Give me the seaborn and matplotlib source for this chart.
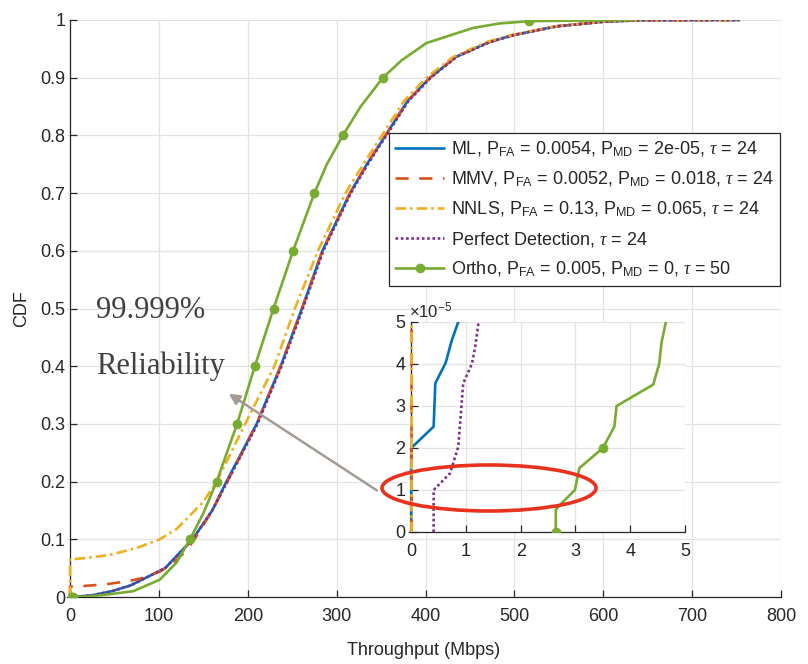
import numpy as np
import pandas as pd
import seaborn as sns
import matplotlib.pyplot as plt
from matplotlib.patches import Ellipse
from matplotlib.ticker import FixedLocator, FixedFormatter

# ---- data (throughput in Mbps, CDF value) ----
ml_thr = [0, 0, 0.41, 0.44, 0.63, 0.74, 0.86, 2.5, 10, 25, 47, 68, 107, 138, 160, 176,
          210, 237, 261, 284, 315, 334, 355, 380, 405, 434, 472, 499, 547, 600, 640, 753]
ml_cdf = [0, 2.0e-5, 2.51e-5, 3.54e-5, 4.03e-5, 4.56e-5, 5.0e-5, 1.5e-4, 0.0008, 0.003, 0.01,
          0.02, 0.05, 0.1, 0.15, 0.2, 0.3, 0.4, 0.5, 0.6, 0.7, 0.75, 0.8, 0.86, 0.9, 0.936,
          0.962, 0.974, 0.989, 0.997, 0.9995, 1.0]

mmv_thr = [0, 0, 15, 40, 64, 82, 101, 116, 131, 140, 160, 177, 210, 237, 261, 284, 315,
           334, 355, 380, 405, 434, 472, 499, 547, 600, 640, 753]
mmv_cdf = [0, 0.018, 0.019, 0.022, 0.027, 0.033, 0.044, 0.058, 0.081, 0.1, 0.15, 0.2, 0.3,
           0.4, 0.5, 0.6, 0.7, 0.75, 0.8, 0.86, 0.9, 0.936, 0.962, 0.974, 0.989, 0.997,
           0.9995, 1.0]

nnls_thr = [0, 0, 20, 45, 75, 101, 120, 131, 150, 165, 197, 230, 253, 279, 310, 330, 351,
            376, 401, 431, 469, 497, 545, 599, 640, 753]
nnls_cdf = [0, 0.065, 0.068, 0.073, 0.085, 0.10, 0.118, 0.135, 0.165, 0.2, 0.3, 0.4, 0.5,
            0.6, 0.7, 0.75, 0.8, 0.86, 0.9, 0.936, 0.962, 0.974, 0.989, 0.997, 0.9995, 1.0]

perfect_thr = [0.41, 0.41, 0.71, 0.86, 0.95, 1.11, 1.17, 1.23, 3, 10, 25, 47, 68, 107, 138,
               160, 177, 211, 238, 262, 285, 316, 335, 356, 381, 406, 435, 473, 500, 548,
               601, 640, 753]
perfect_cdf = [0, 1.0e-5, 1.4e-5, 2.03e-5, 3.54e-5, 4.01e-5, 4.41e-5, 5.0e-5, 1.5e-4, 0.0008,
               0.003, 0.01, 0.02, 0.05, 0.1, 0.15, 0.2, 0.3, 0.4, 0.5, 0.6, 0.7, 0.75, 0.8,
               0.86, 0.9, 0.936, 0.962, 0.974, 0.989, 0.997, 0.9995, 1.0]

ortho_thr = [2.64, 2.64, 2.75, 2.99, 3.07, 3.50, 3.71, 3.75, 4.42, 4.53, 4.57, 4.65, 8, 20,
             40, 71, 101, 120, 135, 150, 165, 188, 208, 229, 251, 275, 289, 307, 327, 352,
             373, 401, 429, 453, 483, 517, 633]
ortho_cdf = [0, 0.53e-5, 0.69e-5, 1.0e-5, 1.52e-5, 2.0e-5, 2.51e-5, 3.0e-5, 3.51e-5, 4.01e-5,
             4.5e-5, 5.0e-5, 1.5e-4, 8e-4, 0.004, 0.01, 0.03, 0.06, 0.1, 0.145, 0.2, 0.3, 0.4,
             0.5, 0.6, 0.7, 0.75, 0.8, 0.85, 0.9, 0.93, 0.96, 0.974, 0.986, 0.994, 0.998, 1.0]

labels = [
    r'ML, P$_{\mathrm{FA}}$ = 0.0054, P$_{\mathrm{MD}}$ = 2e-05, $\tau$ = 24',
    r'MMV, P$_{\mathrm{FA}}$ = 0.0052, P$_{\mathrm{MD}}$ = 0.018, $\tau$ = 24',
    r'NNLS, P$_{\mathrm{FA}}$ = 0.13, P$_{\mathrm{MD}}$ = 0.065, $\tau$ = 24',
    r'Perfect Detection, $\tau$ = 24',
    r'Ortho, P$_{\mathrm{FA}}$ = 0.005, P$_{\mathrm{MD}}$ = 0, $\tau$ = 50',
]

x_ticks = [0, 100, 200, 300, 400, 500, 600, 700, 800]
y_ticks = [0, 0.1, 0.2, 0.3, 0.4, 0.5, 0.6, 0.7, 0.8, 0.9, 1.0]
y_tick_labels = ['0', '0.1', '0.2', '0.3', '0.4', '0.5', '0.6', '0.7', '0.8', '0.9', '1']
inset_ticks = [0, 1, 2, 3, 4, 5]

# ---- style ----
sns.set_theme(style='whitegrid')
plt.rcParams['font.family'] = ['Liberation Sans', 'DejaVu Sans']
plt.rcParams['mathtext.fontset'] = 'custom'
plt.rcParams['mathtext.rm'] = 'Liberation Sans'
plt.rcParams['mathtext.it'] = 'Liberation Serif:italic'
plt.rcParams['axes.unicode_minus'] = True

green = '#77AC30'
series = [
    (ml_thr, ml_cdf, dict(color='#0072BD', lw=1.9, linestyle='-')),
    (mmv_thr, mmv_cdf, dict(color='#D95319', lw=1.9, linestyle=(0, (5, 4)))),
    (nnls_thr, nnls_cdf, dict(color='#EDB120', lw=1.9, linestyle=(0, (4, 1.5, 1, 1.5)))),
    (perfect_thr, perfect_cdf, dict(color='#7E2F8E', lw=1.9, linestyle=(0, (1, 1)))),
    (ortho_thr, ortho_cdf, dict(color=green, lw=1.9, linestyle='-', marker='o',
                                markersize=6.5, markeredgecolor=green, markeredgewidth=0.5,
                                markerfacecolor=green,
                                markevery=[0, 5, 18, 20, 21, 22, 23, 24, 25, 27, 29, 35])),
]

fig = plt.figure(figsize=(8.08, 6.64), dpi=100)
fig.patch.set_facecolor('white')
ax = fig.add_axes([67 / 808, 1 - 597 / 664, 714 / 808, 577 / 664])
ax_in = fig.add_axes([409 / 808, 1 - 532 / 664, 276 / 808, 210 / 664])

for a in (ax, ax_in):
    for (xs, ys, kw), lab in zip(series, labels):
        sns.lineplot(x=xs, y=ys, ax=a, sort=False, estimator=None, label=lab, zorder=3, **kw)

for a in (ax, ax_in):
    a.set_facecolor('white')
    a.grid(True, color='#e3e3e3', lw=0.9)
    for s in ('top', 'right'):
        a.spines[s].set_visible(False)
    for s in ('left', 'bottom'):
        a.spines[s].set_color('#262626')
        a.spines[s].set_linewidth(0.9)
    a.spines['left'].set_position(('data', 0))
    a.tick_params(direction='in', length=5, width=0.9, color='#262626',
                  labelcolor='#262626', labelsize=13, left=True, bottom=True)
    a.tick_params(axis='x', pad=8)

ax.set_xlim(-3.4, 800)
ax.set_ylim(0, 1)
ax.xaxis.set_major_locator(FixedLocator(x_ticks))
ax.yaxis.set_major_locator(FixedLocator(y_ticks))
ax.yaxis.set_major_formatter(FixedFormatter(y_tick_labels))
ax.set_xlabel('Throughput (Mbps)', fontsize=13, color='#262626', labelpad=12)
ax.set_ylabel('CDF', fontsize=13, color='#262626', labelpad=7)

ax_in.set_xlim(-0.04, 5)
ax_in.set_ylim(0, 5e-5)
ax_in.set_xticks(inset_ticks)
ax_in.set_yticks([t * 1e-5 for t in inset_ticks])
ax_in.ticklabel_format(axis='y', style='sci', scilimits=(0, 0), useMathText=True)
ax_in.yaxis.get_offset_text().set_fontsize(12)
ax_in.yaxis.get_offset_text().set_color('#262626')
ax_in.get_legend().remove()

leg = ax.legend(loc='upper right', bbox_to_anchor=(780 / 808, 1 - 133 / 664),
                bbox_transform=fig.transFigure, fontsize=13, frameon=True, fancybox=False,
                edgecolor='#262626', framealpha=1, handlelength=2.7, labelspacing=0.6,
                borderpad=0.35, handletextpad=0.4, borderaxespad=0)
leg.get_frame().set_linewidth(0.9)
leg.set_zorder(5)

# annotation
ax.text(29, 0.497, '99.999%', fontsize=22, family='Liberation Serif', color='#404040', va='center')
ax.text(29, 0.40, 'Reliability', fontsize=22, family='Liberation Serif', color='#404040', va='center')
ax.annotate('', xy=(176, 0.355), xytext=(348, 0.182),
            arrowprops=dict(arrowstyle='-|>', color='#A39C94', lw=1.8, mutation_scale=16))
fig.add_artist(Ellipse((489 / 808, 1 - 488 / 664), 214 / 808, 46 / 664,
                       transform=fig.transFigure, fill=False, ec='#E8321E', lw=2.6, zorder=5))

fig.savefig('out.png', dpi=100, facecolor='white')
